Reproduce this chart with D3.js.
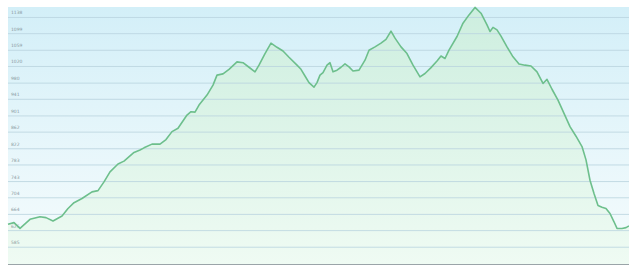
<!DOCTYPE html>
<html>
<head>
<meta charset="utf-8">
<script src="https://cdn.jsdelivr.net/npm/d3@7"></script>
<style>
  body { margin: 0; background: #fff; }
  svg { display: block; }
</style>
</head>
<body>
<div id="chart"></div>
<script>
// Elevation profile (distance in km, elevation in m)
const distance = [0, 0.6, 1.2, 2.2, 3.2, 3.8, 4.5, 5.4, 6.0, 6.6, 7.4, 8.4, 9.0, 9.6, 10.2, 11.0, 11.6, 12.6, 13.2, 13.6,
  14.4, 15.2, 15.8, 16.4, 17.0, 17.9, 18.3, 18.7, 19.1, 19.9, 20.5, 20.9, 21.5, 22.1, 22.9, 23.5, 24.1, 24.7, 25.1, 25.7,
  26.3, 26.9, 27.5, 28.1, 28.9, 29.3, 29.7, 30.1, 30.6, 30.9, 31.2, 31.5, 31.9, 32.2, 32.5, 32.9, 33.3, 33.7, 34.1, 34.5,
  35.1, 35.7, 36.1, 36.7, 37.3, 37.8, 38.3, 38.7, 39.3, 39.9, 40.5, 41.2, 41.7, 42.3, 42.9, 43.3, 43.7, 44.1, 44.9, 45.5,
  46.1, 46.7, 47.3, 47.9, 48.2, 48.5, 48.9, 49.3, 49.9, 50.5, 51.1, 51.7, 52.3, 52.9, 53.5, 53.9, 54.4, 55.0, 55.6, 56.2,
  56.8, 57.4, 57.8, 58.2, 58.6, 59.0, 59.4, 59.8, 60.2, 60.6, 60.9, 61.4, 61.8, 62.1];
const elevation = [639, 643, 629, 651, 657, 655, 647, 659, 677, 691, 701, 717, 720, 741, 765, 784, 791, 812, 818, 823,
  832, 832, 843, 862, 870, 902, 910, 909, 926, 950, 974, 998, 1001, 1012, 1030, 1028, 1017, 1006, 1022, 1050,
  1075, 1065, 1056, 1041, 1022, 1012, 996, 980, 969, 980, 998, 1004, 1022, 1028, 1006, 1010, 1017, 1025, 1018, 1008,
  1010, 1034, 1058, 1066, 1075, 1084, 1104, 1087, 1066, 1050, 1022, 994, 1002, 1016, 1032, 1044, 1038, 1058, 1091, 1123,
  1143, 1161, 1147, 1119, 1103, 1113, 1107, 1092, 1066, 1042, 1025, 1022, 1020, 1006, 978, 988, 964, 938, 906, 874,
  851, 826, 794, 745, 713, 684, 680, 677, 665, 645, 629, 629, 631, 635];
const tickValues = [1138, 1099, 1059, 1020, 980, 941, 901, 862, 822, 783, 743, 704, 664, 625, 585];

const width = 629;
const height = 266;
const margin = { top: 7, right: 0, bottom: 1, left: 8 };

const data = distance.map((d, i) => ({ d, e: elevation[i] }));

const svg = d3.select('#chart')
  .append('svg')
  .attr('width', width)
  .attr('height', height);

const x = d3.scaleLinear()
  .domain([0, 62.1])
  .range([margin.left, width - margin.right]);

const y = d3.scaleLinear()
  .domain([541, 1162])
  .range([height - margin.bottom, margin.top]);

// Gradients
const defs = svg.append('defs');
const bg = defs.append('linearGradient')
  .attr('id', 'bg').attr('x1', 0).attr('y1', 0).attr('x2', 0).attr('y2', 1);
bg.append('stop').attr('offset', '0%').attr('stop-color', '#d3eff8');
bg.append('stop').attr('offset', '60%').attr('stop-color', '#e9f7fb');
bg.append('stop').attr('offset', '100%').attr('stop-color', '#f6fcfd');

const fill = defs.append('linearGradient')
  .attr('id', 'fill').attr('gradientUnits', 'userSpaceOnUse')
  .attr('x1', 0).attr('y1', margin.top).attr('x2', 0).attr('y2', height - margin.bottom);
fill.append('stop').attr('offset', '0%').attr('stop-color', '#cdeedf');
fill.append('stop').attr('offset', '100%').attr('stop-color', '#effbf3');

// Plot background
svg.append('rect')
  .attr('x', margin.left)
  .attr('y', margin.top)
  .attr('width', width - margin.left - margin.right)
  .attr('height', height - margin.top - margin.bottom)
  .attr('fill', 'url(#bg)');

// Area under profile
const area = d3.area()
  .x(d => x(d.d))
  .y0(y(541))
  .y1(d => y(d.e));

svg.append('path')
  .datum(data)
  .attr('d', area)
  .attr('fill', 'url(#fill)');

// Gridlines + labels
const yAxis = d3.axisLeft(y)
  .tickValues(tickValues)
  .tickSize(-(width - margin.left - margin.right))
  .tickFormat(d => d);

const g = svg.append('g')
  .attr('transform', `translate(${margin.left},0)`)
  .call(yAxis);
g.select('.domain').remove();
g.selectAll('.tick line')
  .attr('stroke', '#b9d3de')
  .attr('stroke-opacity', 0.8);
g.selectAll('.tick text')
  .attr('x', 3)
  .attr('dy', -3)
  .attr('text-anchor', 'start')
  .attr('fill', '#8a9aa0')
  .style('font-family', 'DejaVu Sans, sans-serif')
  .style('font-size', '4.5px');

// Profile line
const line = d3.line()
  .x(d => x(d.d))
  .y(d => y(d.e));

svg.append('path')
  .datum(data)
  .attr('d', line)
  .attr('fill', 'none')
  .attr('stroke', '#6dbf8c')
  .attr('stroke-width', 1.6)
  .attr('stroke-linejoin', 'round');

// Bottom axis
const xAxis = d3.axisBottom(x)
  .ticks(30)
  .tickSize(1)
  .tickFormat('');
svg.append('g')
  .attr('transform', `translate(0,${height - margin.bottom - 1})`)
  .call(xAxis)
  .call(s => s.selectAll('path, line').attr('stroke', '#9aa4a8'));
</script>
</body>
</html>
